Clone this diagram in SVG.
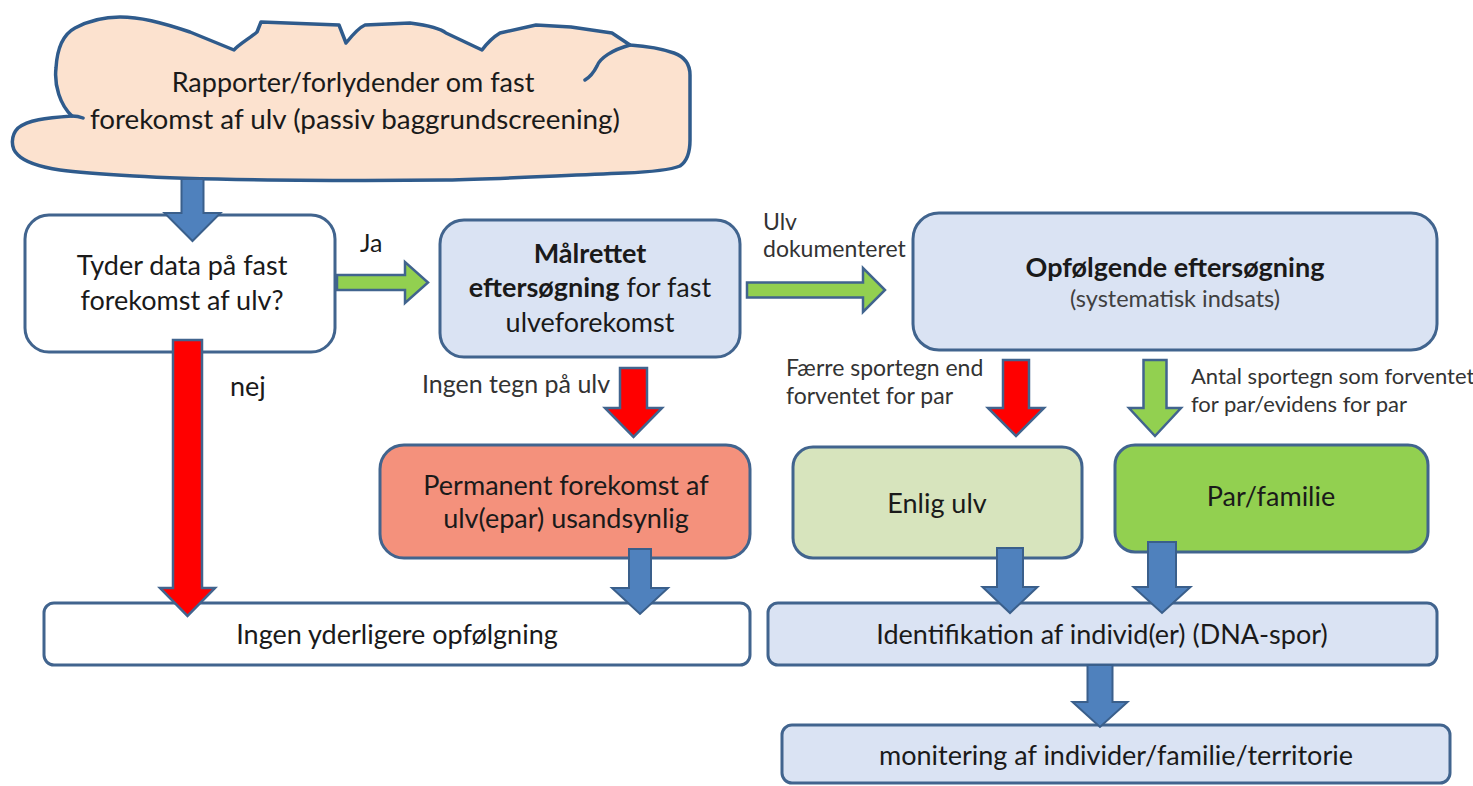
<svg xmlns="http://www.w3.org/2000/svg" width="1473" height="786" viewBox="0 0 1473 786">
<style>
.box{stroke:#41648e;stroke-width:3}
.t{font-family:Lato,"Open Sans",sans-serif;font-size:27px;fill:#1a1a1a;text-anchor:middle}
.l{font-family:Lato,"Open Sans",sans-serif;font-size:23px;fill:#333333}
.b{font-weight:bold}
.blue{fill:#4f81bd;stroke:#3a5f8b;stroke-width:2}
.red{fill:#ff0000;stroke:#41648e;stroke-width:2.5}
.green{fill:#92d050;stroke:#41648e;stroke-width:2.5}
</style>
<rect width="1473" height="786" fill="#ffffff"/>
<g id="labels">
<text class="t" x="360" y="252" style="text-anchor:start;font-size:25px">Ja</text>
<text class="t" x="230" y="396" style="text-anchor:start">nej</text>
<text class="l" x="422" y="393" style="font-size:25px">Ingen tegn på ulv</text>
<text class="l" x="763" y="230">Ulv</text>
<text class="l" x="763" y="257">dokumenteret</text>
<text class="l" x="786" y="376">Færre sportegn end</text>
<text class="l" x="786" y="404">forventet for par</text>
<text class="l" x="1191" y="384" style="font-size:22px">Antal sportegn som forventet</text>
<text class="l" x="1191" y="412" style="font-size:22px">for par/evidens for par</text>
</g>
<g id="nodes">
<g id="cloud">
<path d="M72,116 C60,105 54,85 56,68 C57,50 62,35 75,28 C90,20 105,17 120,17 C140,17 160,22 190,32 L234,50 C238,45 250,38 257,32 L261,22 L339,25 L346,43 C350,38 358,28 365,25 L410,23 C425,25 440,28 446,33 L482,50 C488,42 495,36 500,33 L536,25 L571,27 L612,33 L630,45 C645,46 660,48 674,53 C685,57 690,65 690,75 L690,140 C690,155 686,162 680,166 C670,170 650,172 625,173 C550,176 500,179 446,180 C350,181 300,180 268,180 C200,179 150,177 134,176 C100,174 75,172 60,170 C40,167 25,162 18,155 C10,148 11,135 18,128 C28,120 45,118 72,116 Z" fill="#fce2cf" stroke="#2f5b8c" stroke-width="3.5" stroke-linejoin="round"/>
<path d="M72,116 Q78,116 83,118 M630,45 C612,50 600,58 597,66 C594,72 590,77 585,80" fill="none" stroke="#2f5b8c" stroke-width="3.5" stroke-linecap="round"/>
<text class="t" x="353" y="92">Rapporter/forlydender om fast</text>
<text class="t" x="355" y="129" style="font-size:27.8px">forekomst af ulv (passiv baggrundscreening)</text>
</g>
<g id="tyder">
<rect class="box" x="25" y="215" width="310" height="137" rx="24" fill="#ffffff"/>
<text class="t" x="182" y="275">Tyder data på fast</text>
<text class="t" x="182" y="310">forekomst af ulv?</text>
</g>
<g id="maalrettet">
<rect class="box" x="440" y="220" width="300" height="137" rx="24" fill="#dae3f3"/>
<text class="t b" x="590" y="263">Målrettet</text>
<text class="t" x="590" y="297"><tspan class="b">eftersøgning</tspan> for fast</text>
<text class="t" x="590" y="332">ulveforekomst</text>
</g>
<g id="opfoelgende">
<rect class="box" x="913" y="213" width="524" height="137" rx="26" fill="#dae3f3"/>
<text class="t b" x="1175" y="277">Opfølgende eftersøgning</text>
<text class="t" x="1175" y="307" style="font-size:23.5px;fill:#404040">(systematisk indsats)</text>
</g>
<g id="permanent">
<rect class="box" x="380" y="445" width="370" height="113" rx="24" fill="#f4917c"/>
<text class="t" x="566" y="495">Permanent forekomst af</text>
<text class="t" x="566" y="528">ulv(epar) usandsynlig</text>
</g>
<g id="enlig">
<rect class="box" x="793" y="447" width="289" height="111" rx="20" fill="#d7e4bd"/>
<text class="t" x="937" y="513">Enlig ulv</text>
</g>
<g id="parfamilie">
<rect class="box" x="1115" y="445" width="313" height="107" rx="20" fill="#92d050"/>
<text class="t" x="1271" y="506">Par/familie</text>
</g>
<g id="ingen">
<rect class="box" x="44" y="603" width="706" height="62" rx="10" fill="#ffffff"/>
<text class="t" x="397" y="644">Ingen yderligere opfølgning</text>
</g>
<g id="identifikation">
<rect class="box" x="768" y="603" width="669" height="62" rx="10" fill="#dae3f3"/>
<text class="t" x="1102" y="644">Identifikation af individ(er) (DNA-spor)</text>
</g>
<g id="monitering">
<rect class="box" x="782" y="725" width="668" height="58" rx="10" fill="#dae3f3"/>
<text class="t" x="1116" y="765">monitering af individer/familie/territorie</text>
</g>
</g>
<g id="connectors">
<polygon class="blue" points="181.5,179 203.5,179 203.5,213 220.5,213 192.5,241 164.5,213 181.5,213"/>
<polygon class="green" points="337,275 405,275 405,262 428,282.5 405,303 405,290 337,290"/>
<polygon class="green" points="747,282.5 863,282.5 863,268 885,290 863,312 863,297.5 747,297.5"/>
<polygon class="red" points="173,340 202,340 202,588 215,588 187.5,616 160,588 173,588"/>
<polygon class="red" points="620,368 647,368 647,408 662,408 633.5,437 605,408 620,408"/>
<polygon class="blue" points="629,549 651,549 651,588 668,588 640,614 612,588 629,588"/>
<polygon class="red" points="1003,360 1029,360 1029,408 1044,408 1016,436 988,408 1003,408"/>
<polygon class="green" points="1143.5,360 1166.5,360 1166.5,408 1181,408 1155,436 1129,408 1143.5,408"/>
<polygon class="blue" points="997,548 1023,548 1023,587 1037.5,587 1010,613 982.5,587 997,587"/>
<polygon class="blue" points="1148,542 1176,542 1176,587 1190.5,587 1162,613 1133.5,587 1148,587"/>
<polygon class="blue" points="1087.5,665 1112.5,665 1112.5,702 1127.5,702 1100,727 1072.5,702 1087.5,702"/>
</g>
</svg>
